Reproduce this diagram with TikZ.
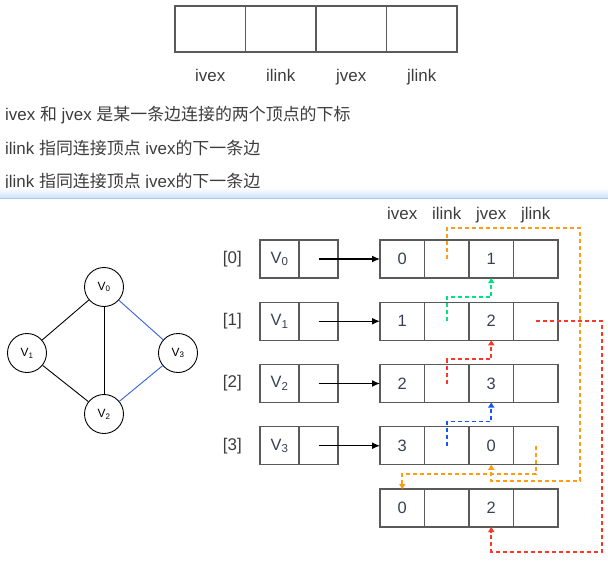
\documentclass[tikz,border=0pt]{standalone}
\usepackage{fontspec}
\setmainfont{Liberation Sans}
\newfontfamily\cjk{Noto Sans CJK SC}
\usetikzlibrary{arrows.meta, positioning, calc}
\definecolor{boxgray}{RGB}{90, 90, 90}
\definecolor{textgray}{RGB}{60, 60, 60}
\definecolor{numblue}{RGB}{55, 65, 85}
\definecolor{orangeL}{RGB}{255, 155, 20}
\definecolor{greenL}{RGB}{0, 225, 130}
\definecolor{redL}{RGB}{250, 55, 40}
\definecolor{blueL}{RGB}{25, 85, 240}
\definecolor{edgeblue}{RGB}{55, 95, 230}
\definecolor{sepblue}{RGB}{205, 225, 248}
\definecolor{seplinec}{RGB}{170, 200, 240}

\begin{document}
\begin{tikzpicture}[
    x=1bp, y=-1bp,
    cell/.style={rectangle, draw=boxgray, line width=1.1bp, minimum width=44.5bp, minimum height=38bp, inner sep=0pt, outer sep=0pt, font=\fontsize{16.5}{16.5}\selectfont, text=numblue},
    vcell/.style={cell, minimum width=39bp},
    topcell/.style={cell, minimum width=70.5bp, minimum height=46bp},
    vertex/.style={circle, draw=black, line width=0.9bp, minimum size=39bp, inner sep=0pt, font=\fontsize{12}{12}\selectfont},
    hdr/.style={font=\fontsize{17}{17}\selectfont, text=textgray, inner sep=0pt},
    note/.style={anchor=base west, font=\fontsize{17}{17}\selectfont, text=textgray, inner sep=0pt},
    ptr/.style={-{Latex[length=8bp, width=7bp]}, line width=1.2bp},
    link/.style={-{Triangle[length=5bp, width=6bp]}, line width=1.8bp, dash pattern=on 4bp off 3bp}
]
\useasboundingbox (0,0) rectangle (608,563);

% field layout
\node[topcell] (tiv) at (210.25,29) {};
\node[topcell, right=0pt of tiv] (til) {};
\node[topcell, right=0pt of til] (tjv) {};
\node[topcell, right=0pt of tjv] (tjl) {};
\foreach \c/\t in {tiv/ivex, til/ilink, tjv/jvex, tjl/jlink}
    \node[hdr, below=30bp of \c.south, anchor=base] {\t};

% notes
\node[note] (n1) at (5,121) {ivex {\cjk 和} jvex {\cjk 是某一条边连接的两个顶点的下标}};
\node[note, below=33bp of n1.base west, anchor=base west] (n2) {ilink {\cjk 指同连接顶点} ivex{\cjk 的下一条边}};
\node[note, below=33bp of n2.base west, anchor=base west] (n3) {jlink {\cjk 指同连接顶点} jvex{\cjk 的下一条边}};

% separator
\shade[top color=white, bottom color=sepblue] (0,188) rectangle (608,198);
\draw[seplinec, line width=1bp] (0,198.5) -- (608,198.5);

% graph
\node[vertex] (v0) at (104,287) {V\textsubscript{0}};
\node[vertex] (v1) at (27,353) {V\textsubscript{1}};
\node[vertex] (v3) at (178,353) {V\textsubscript{3}};
\node[vertex] (v2) at (104,414) {V\textsubscript{2}};
\draw[line width=0.9bp] (v0) -- (v1);
\draw[line width=0.9bp] (v0) -- (v2);
\draw[line width=0.9bp] (v1) -- (v2);
\draw[edgeblue, line width=0.9bp] (v0) -- (v3);
\draw[edgeblue, line width=0.9bp] (v3) -- (v2);

% edge nodes
\foreach \r/\a/\b in {0/0/1, 1/1/2, 2/2/3, 3/3/0, 4/0/2} {
    \node[cell] (iv\r) at (402.25,259+62.25*\r) {\a};
    \node[cell, right=0pt of iv\r] (il\r) {};
    \node[cell, right=0pt of il\r] (jv\r) {\b};
    \node[cell, right=0pt of jv\r] (jl\r) {};
}
\foreach \c/\t in {iv0/ivex, il0/ilink, jv0/jvex, jl0/jlink}
    \node[hdr, above=21bp of \c.north, anchor=base] {\t};

% vertex table
\foreach \r in {0,...,3} {
    \node[vcell] (vx\r) at (279.5,259+62.25*\r) {V\textsubscript{\r}};
    \node[vcell, right=0pt of vx\r] (pt\r) {};
    \node[hdr, left=18bp of vx\r] (ix\r) {[\r]};
    \draw[ptr] (pt\r.center) -- (iv\r.west);
}

% links
\draw[link, orangeL] (il0.center) |- ($(jl0.north east)+(22,-12)$) |- ($(jv3.south)+(0,16)$) -- (jv3.south);
\draw[link, greenL] (il1.center) |- ($(jv0.south)+(0,19)$) -- (jv0.south);
\draw[link, redL] (il2.center) |- ($(jv1.south)+(0,19)$) -- (jv1.south);
\draw[link, blueL] (il3.center) |- ($(jv2.south)+(0,19)$) -- (jv2.south);
\draw[link, orangeL] (jl3.center) |- ($(iv4.north)+(0,-15)$) -- (iv4.north);
\draw[link, redL] (jl1.center) -- ++(66,0) |- ($(jv4.south)+(0,25)$) -- (jv4.south);

\end{tikzpicture}
\end{document}
